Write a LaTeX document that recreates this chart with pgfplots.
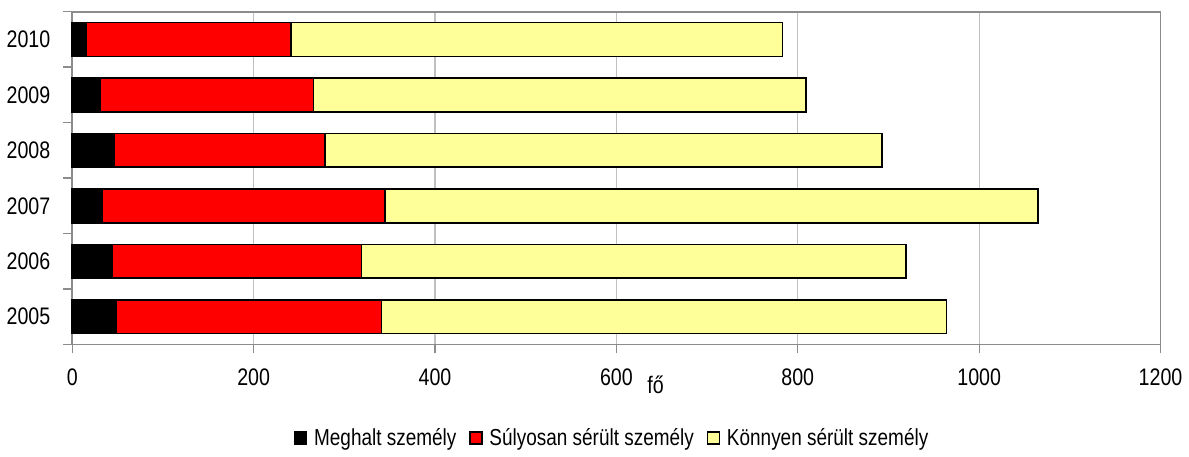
\documentclass[border=0pt]{standalone}
\usepackage{fontspec}
\setmainfont{Liberation Sans}[FakeStretch=0.82]
\usepackage{pgfplots}
\pgfplotsset{compat=1.18}
\definecolor{axgray}{HTML}{8C8C8C}
\definecolor{gridgray}{HTML}{C0C0C0}
\definecolor{lightyellow}{HTML}{FFFF99}
\begin{document}
\begin{tikzpicture}
\begin{axis}[
  scale only axis,
  width=546pt, height=167pt,
  clip=false,
  xbar stacked,
  bar width=0.61,
  xmin=0, xmax=1200,
  ymin=-0.5, ymax=5.5,
  xtick={0,200,...,1200},
  ytick={0,1,2,3,4,5},
  yticklabels={2005,2006,2007,2008,2009,2010},
  minor ytick={-0.5,0.5,...,5.5},
  tick pos=left,
  tick align=outside,
  major tick length=4.5pt,
  minor tick length=4.5pt,
  y tick style={draw=none},
  minor y tick style={draw=axgray, line width=0.8pt},
  x tick style={axgray, line width=0.6pt},
  axis line style={axgray, line width=0.9pt},
  xmajorgrids, major x grid style={gridgray, line width=0.6pt},
  /pgf/number format/assume math mode=true,
  /pgf/number format/1000 sep={},
  tick label style={font=\fontsize{12}{14}\selectfont},
  xticklabel style={yshift=-4pt},
  yticklabel style={xshift=-3pt},
  xlabel={fő},
  xlabel style={at={(rel axis cs:0.536,0)}, anchor=north, yshift=-12pt, font=\fontsize{12}{14}\selectfont},
  legend columns=3,
  legend style={at={(rel axis cs:0.497,-0.281)}, anchor=center, draw=none,
    font=\fontsize{11.6}{14}\selectfont,
    /tikz/every odd column/.append style={column sep=1.5pt},
    /tikz/every even column/.append style={column sep=4.5pt}},
  legend image code/.code={\draw[#1, line width=0.6pt] (0pt,-3pt) rectangle (6pt,3pt);},
]
\addplot[fill=black, draw=black, line width=0.8pt] coordinates {(48,0) (44,1) (33,2) (46,3) (31,4) (15,5)};
\addplot[fill=red, draw=black, line width=0.8pt] coordinates {(293,0) (275,1) (312,2) (233,3) (235,4) (226,5)};
\addplot[fill=lightyellow, draw=black, line width=0.8pt] coordinates {(623,0) (600,1) (720,2) (614,3) (543,4) (542,5)};
\legend{Meghalt személy, Súlyosan sérült személy, Könnyen sérült személy}
\path (rel axis cs:-0.0641,1.035) rectangle (rel axis cs:1.0247,-0.324);
\end{axis}
\end{tikzpicture}
\end{document}
